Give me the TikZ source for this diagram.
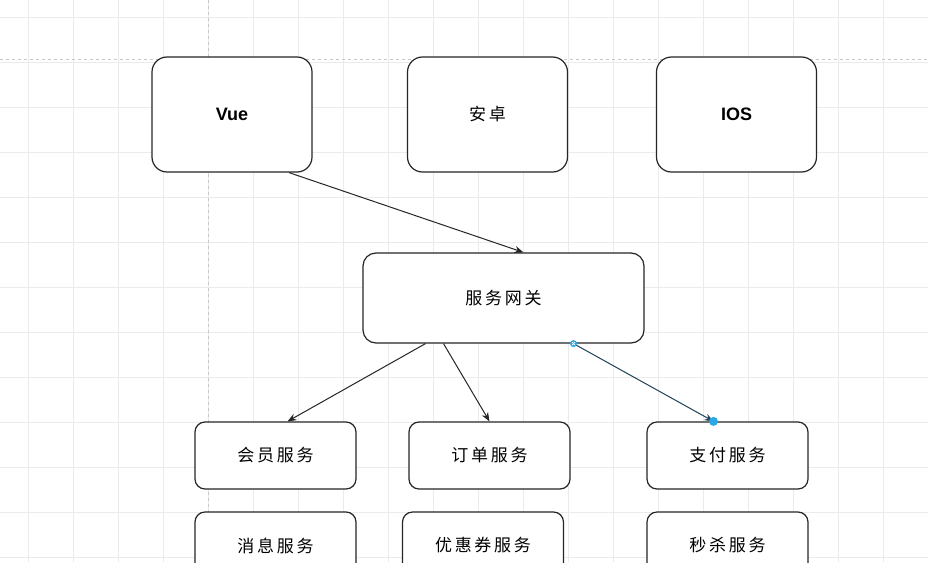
\documentclass[tikz,border=0pt]{standalone}
\usepackage{fontspec}
\setmainfont{Liberation Sans}
\newfontfamily\cjk[LetterSpace=16]{Noto Sans CJK SC}
\usetikzlibrary{positioning,arrows.meta}
\definecolor{gridgray}{HTML}{EBEBEB}
\definecolor{guidegray}{HTML}{C8C8C8}
\definecolor{edgegray}{HTML}{262626}
\definecolor{selblue}{HTML}{2AA7E6}
\definecolor{seledge}{HTML}{24465C}

\begin{document}
\begin{tikzpicture}[x=1pt,y=-1pt,
        clientbox/.style={draw=edgegray, line width=1.2pt, fill=white, rounded corners=15pt,
            minimum width=160pt, minimum height=115pt},
        gatebox/.style={draw=edgegray, line width=1.2pt, fill=white, rounded corners=13pt,
            minimum width=281pt, minimum height=90pt},
        svcbox/.style={draw=edgegray, line width=1.2pt, fill=white, rounded corners=10pt,
            minimum width=161pt, minimum height=67pt},
        latin/.style={font=\fontsize{18}{20}\selectfont\bfseries},
        zh/.style={font=\fontsize{17}{19}\selectfont\cjk},
        link/.style={-{Stealth[length=9pt,width=7pt]}, line width=1pt, draw=edgegray}]
        % canvas
        \useasboundingbox (0,0) rectangle (928,562);
        \fill[white] (0,0) rectangle (928,562);

        % Grid lines
        \foreach \x in {28,73,...,928}
            \draw[gridgray, line width=0.8pt] (\x,0) -- (\x,562);
        \foreach \y in {17,62,...,562}
            \draw[gridgray, line width=0.8pt] (0,\y) -- (928,\y);
        % page guides
        \draw[guidegray, dashed, line width=0.8pt] (208,0) -- (208,562);
        \draw[guidegray, dashed, line width=0.8pt] (0,59) -- (928,59);

        % Clients
        \node[clientbox, latin] (vue) at (232,114.5) {Vue};
        \node[clientbox, zh] (android) at (487.5,114.5) {安卓};
        \node[clientbox, latin] (ios) at (736.5,114.5) {IOS};

        % Gateway
        \node[gatebox, zh] (gateway) at (503.5,298) {服务网关};

        % Services
        \node[svcbox, zh] (member) at (275.5,455.5) {会员服务};
        \node[svcbox, zh] (order) at (489.5,455.5) {订单服务};
        \node[svcbox, zh] (pay) at (727.5,455.5) {支付服务};
        \node[svcbox, zh] (msg) at (275.5,545.5) {消息服务};
        \node[svcbox, zh] (coupon) at (483,545.5) {优惠券服务};
        \node[svcbox, zh] (seckill) at (727.5,545.5) {秒杀服务};

        % Connectors
        \draw[link] ([xshift=57pt]vue.south) -- ([xshift=20pt]gateway.north);
        \draw[link] ([xshift=-78pt]gateway.south) -- ([xshift=12pt]member.north);
        \draw[link] ([xshift=-60pt]gateway.south) -- (order.north);
        \draw[link, draw=seledge, fill=seledge] ([xshift=70pt]gateway.south) -- ([xshift=-14pt]pay.north);

        % selection handles
        \fill[selblue] ([xshift=70pt]gateway.south) circle (3.5pt);
        \draw[white, line width=0.6pt] ([xshift=70pt]gateway.south) ++(-1.5,-1.5) -- ++(3,3)
            ++(0,-3) -- ++(-3,3);
        \fill[selblue] ([xshift=-14pt]pay.north) circle (4.5pt);
\end{tikzpicture}
\end{document}
